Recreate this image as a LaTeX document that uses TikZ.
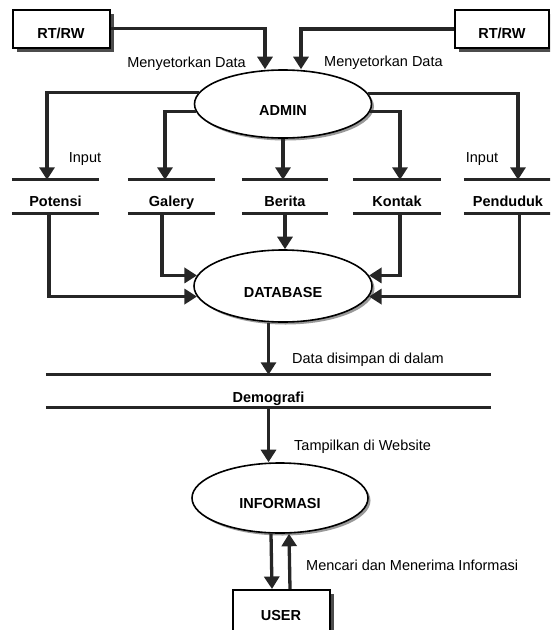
\documentclass[tikz,border=0pt]{standalone}
\usepackage{fontspec}
\setmainfont{Liberation Sans}
\usetikzlibrary{arrows.meta,shapes.geometric,shadows}
\tikzset{
	entity/.style={draw,line width=2pt,fill=white,minimum width=97pt,minimum height=38pt,inner sep=0pt,text height=19pt,text depth=0pt,font=\fontsize{14.5}{16}\selectfont\bfseries,general shadow={fill=black!70,shadow xshift=4pt,shadow yshift=-4pt}},
	proses/.style={ellipse,draw,line width=1.6pt,fill=white,minimum width=177pt,minimum height=68pt,inner sep=0pt,text height=22pt,text depth=0pt,font=\fontsize{14.5}{16}\selectfont\bfseries,general shadow={fill=black!40,shadow xshift=2.5pt,shadow yshift=-2.5pt}},
	store/.style={minimum width=87pt,minimum height=33pt,inner sep=0pt,text height=19pt,text depth=0pt,font=\fontsize{14.5}{16}\selectfont\bfseries},
	garis/.style={line width=3.3pt,draw=black!85},
	flow/.style={line width=3.3pt,draw=black!85,-{Triangle[width=15pt,length=12.5pt]}},
	ket/.style={inner sep=0pt,font=\fontsize{14.5}{16}\selectfont}
}
\begin{document}
\begin{tikzpicture}[x=1pt,y=-1pt]
	\path[use as bounding box,clip] (0,0) rectangle (550,630);
	\node[entity] (rtrw1) at (61,28.5) {RT/RW};
	\node[entity,minimum width=94pt] (rtrw2) at (502,29) {RT/RW};
	\node[proses] (admin) at (283,104) {ADMIN};
	\node[store] (potensi) at (55.5,196.5) {Potensi};
	\node[store] (galery) at (171.5,196.5) {Galery};
	\node[store,minimum width=86pt] (berita) at (285,196.5) {Berita};
	\node[store,minimum width=88pt] (kontak) at (397,196.5) {Kontak};
	\node[store,minimum width=88pt] (penduduk) at (508,196.5) {Penduduk};
	\node[proses,minimum width=178pt,minimum height=72pt] (database) at (283,286) {DATABASE};
	\node[store,minimum width=445pt,minimum height=32pt,text height=22pt] (demografi) at (268.5,391) {Demografi};
	\node[proses,minimum width=176pt,minimum height=70pt,text height=20pt] (informasi) at (280,498) {INFORMASI};
	\node[entity,minimum height=46pt,text height=15pt] (user) at (281,613) {USER};
	\foreach \s in {potensi,galery,berita,kontak,penduduk,demografi}
		\draw[garis] (\s.north west) -- (\s.north east) (\s.south west) -- (\s.south east);
	\draw[flow] (rtrw1.east) -| ([xshift=-18pt]admin.north);
	\draw[flow] (rtrw2.west) -| ([xshift=18pt]admin.north);
	\draw[flow] (admin.172.5) -| ([xshift=-8.5pt]potensi.north);
	\draw[flow] (admin.185) -| ([xshift=-6.5pt]galery.north);
	\draw[flow] (admin.south) -- (admin.south |- berita.north);
	\draw[flow] (admin.355) -| ([xshift=3pt]kontak.north);
	\draw[flow] (admin.7.5) -| ([xshift=10pt]penduduk.north);
	\draw[flow] ([xshift=-6.5pt]potensi.south) |- (database.187);
	\draw[flow] ([xshift=-9.5pt]galery.south) |- (database.173);
	\draw[flow] (berita.south) -- (berita.south |- database.north);
	\draw[flow] ([xshift=3pt]kontak.south) |- (database.7);
	\draw[flow] ([xshift=11.5pt]penduduk.south) |- (database.353);
	\draw[flow] (database.south -| demografi.north) -- (demografi.north);
	\draw[flow] (demografi.south) -- (demografi.south |- informasi.north);
	\draw[flow] ([xshift=-9pt]informasi.south) -- ([xshift=-9pt]user.north);
	\draw[flow] ([xshift=9pt]user.north) -- ([xshift=9pt]informasi.south);
	\node[ket,anchor=base east] (lsetor1) at (246,67) {Menyetorkan Data};
	\node[ket,anchor=base west] (lsetor2) at (324,66) {Menyetorkan Data};
	\node[ket,anchor=base] (linput1) at (85,162) {Input};
	\node[ket,anchor=base] (linput2) at (482,162) {Input};
	\node[ket,anchor=base west] (lsimpan) at (292,363) {Data disimpan di dalam};
	\node[ket,anchor=base west] (ltampil) at (294,450) {Tampilkan di Website};
	\node[ket,anchor=base west] (lcari) at (306,570) {Mencari dan Menerima Informasi};
\end{tikzpicture}
\end{document}
